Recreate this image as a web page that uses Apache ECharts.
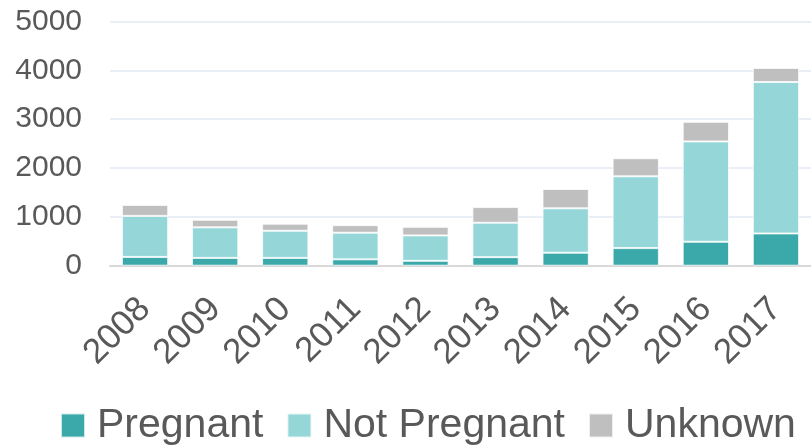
<!DOCTYPE html>
<html>
<head>
<meta charset="utf-8">
<script src="https://cdn.jsdelivr.net/npm/echarts@6/dist/echarts.min.js"></script>
<style>
  html, body { margin: 0; padding: 0; background: #ffffff; }
  #chart { width: 811px; height: 447px; }
</style>
</head>
<body>
<div id="chart"></div>
<script>
// Case counts by year, split by pregnancy status
const years = ['2008', '2009', '2010', '2011', '2012', '2013', '2014', '2015', '2016', '2017'];
const pregnant    = [180, 160, 160, 130, 100, 175, 265, 360, 490, 660];
const notPregnant = [840, 625, 555, 545, 520, 705, 910, 1470, 2055, 3100];
const unknown     = [225, 155, 145, 155, 175, 320, 395, 370, 400, 290];
const yTicks = [0, 1000, 2000, 3000, 4000, 5000];

const FONT = '"Liberation Sans", Arial, sans-serif';
const TEXT = '#595959';

const chart = echarts.init(document.getElementById('chart'), null, { renderer: 'canvas' });

function stackSeries(name, data, color) {
  return {
    name: name,
    type: 'bar',
    stack: 'total',
    data: data,
    barCategoryGap: '34%',
    itemStyle: { color: color, borderColor: 'rgba(255,255,255,0.75)', borderWidth: 1 },
    emphasis: { disabled: true }
  };
}

chart.setOption({
  animation: false,
  backgroundColor: '#ffffff',
  grid: { left: 110, top: 21.5, width: 711, height: 244.2, containLabel: false },
  legend: {
    left: 55,
    top: 400,
    itemWidth: 24,
    itemHeight: 24,
    itemGap: 23,
    icon: 'rect',
    textStyle: { fontFamily: FONT, fontSize: 41, color: TEXT, padding: [0, 0, 0, 7] },
    data: ['Pregnant', 'Not Pregnant', 'Unknown']
  },
  xAxis: {
    type: 'category',
    data: years,
    axisTick: { show: false },
    axisLine: { show: true, lineStyle: { color: '#D9D9D9', width: 2 } },
    axisLabel: {
      rotate: 45,
      margin: 38,
      fontFamily: FONT,
      fontSize: 35,
      color: TEXT
    }
  },
  yAxis: {
    type: 'value',
    min: yTicks[0],
    max: yTicks[yTicks.length - 1],
    interval: 1000,
    axisLine: { show: false },
    axisTick: { show: false },
    splitLine: { lineStyle: { color: '#E3E9F5', width: 1.5 } },
    axisLabel: {
      margin: 28,
      fontFamily: FONT,
      fontSize: 30,
      color: TEXT,
      formatter: function (v) { return String(v); }
    }
  },
  series: [
    stackSeries('Pregnant', pregnant, '#3BA8AA'),
    stackSeries('Not Pregnant', notPregnant, '#95D7D8'),
    stackSeries('Unknown', unknown, '#BFBFBF')
  ]
});
</script>
</body>
</html>
